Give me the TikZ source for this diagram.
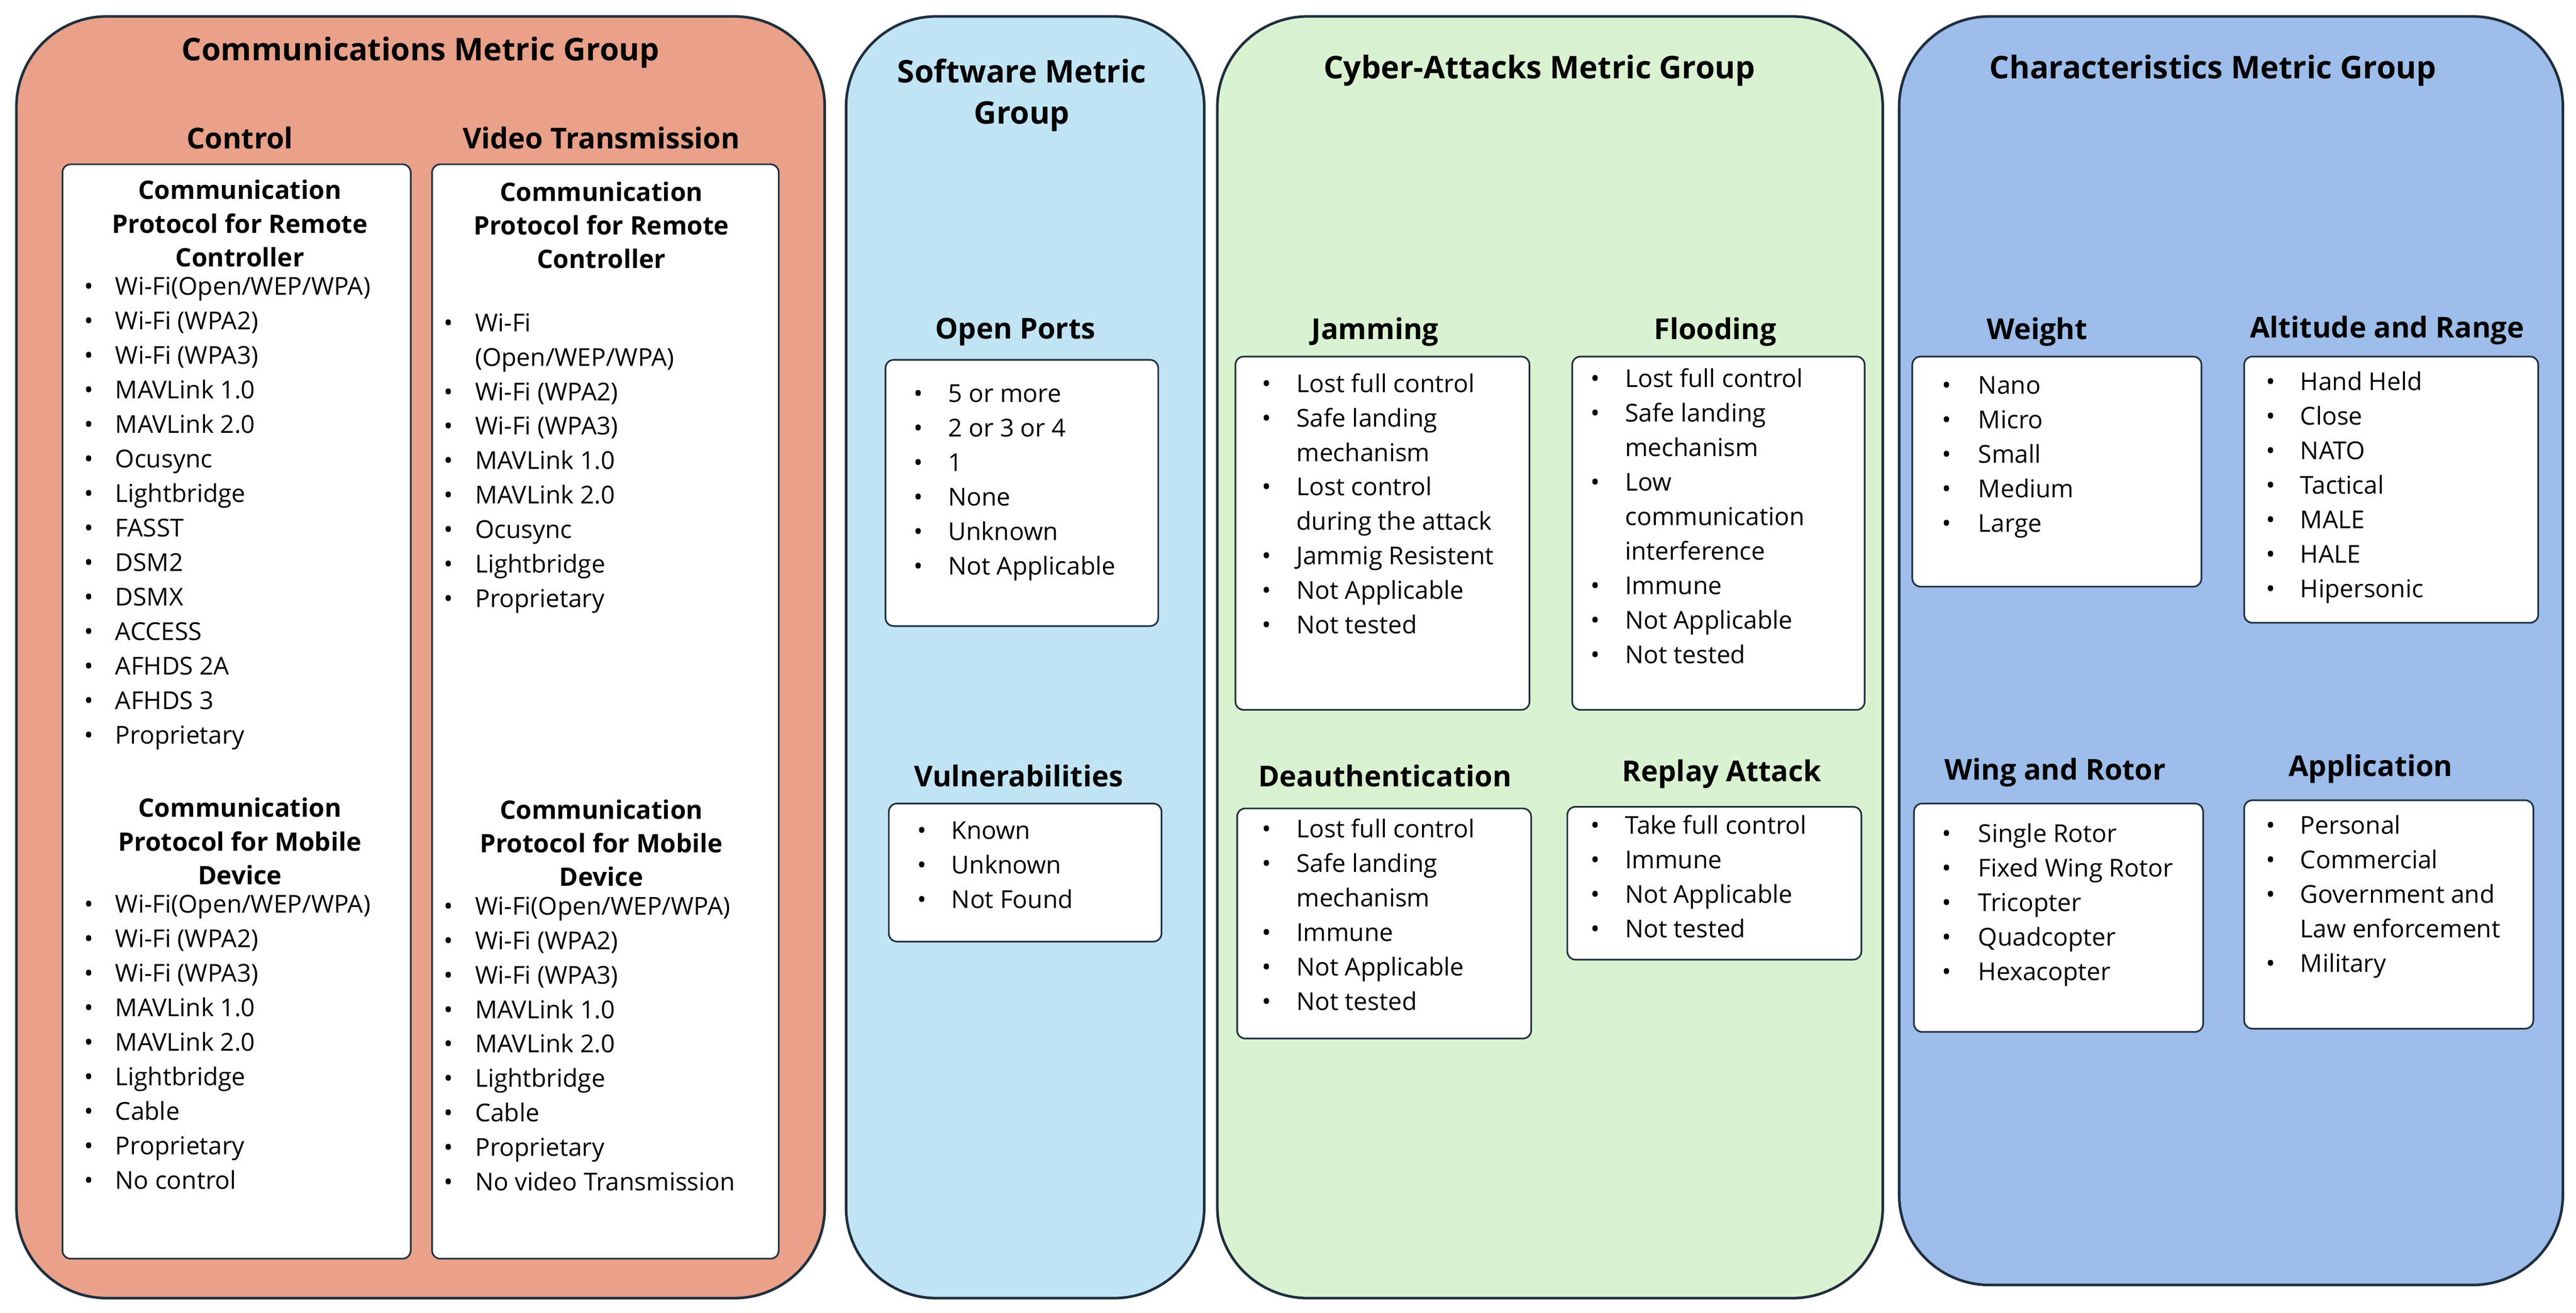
\documentclass[tikz,border=0pt]{standalone}
\usepackage{fontspec}
\setmainfont{Open Sans}
\newcounter{itm}
\definecolor{salmon}{HTML}{E9A189}
\definecolor{lblue}{HTML}{C1E4F5}
\definecolor{lgreen}{HTML}{D9F2D0}
\definecolor{mblue}{HTML}{9DBDEA}
\definecolor{edge}{HTML}{1F2F3F}
\tikzset{
 grp/.style={draw=edge,line width=1.6pt,rounded corners=55pt},
 box/.style={draw=edge,fill=white,line width=1pt,rounded corners=5pt},
 gtitle/.style={font=\fontsize{19}{23}\selectfont\bfseries,align=center},
 sub/.style={font=\fontsize{17.5}{21}\selectfont\bfseries,align=center},
 head/.style={font=\fontsize{15.5}{20.5}\selectfont\bfseries,align=center},
 itm/.style={font=\fontsize{15}{18}\selectfont,anchor=mid west,inner sep=0pt},
}
\newcommand{\bl}[4]{\stepcounter{itm}\node[itm] (b\arabic{itm}) at (#1,#3) {•};\node[itm] (t\arabic{itm}) at (#2,#3) {#4};}
\newcommand{\ct}[3]{\stepcounter{itm}\node[itm] (t\arabic{itm}) at (#1,#2) {#3};}
\begin{document}
\begin{tikzpicture}[x=1pt,y=-1pt]
\useasboundingbox[fill=white] (0,0) rectangle (1568,799);
% groups
\draw[grp,fill=salmon] (10,10) rectangle (502,790);
\draw[grp,fill=lblue] (515,10) rectangle (733,790);
\draw[grp,fill=lgreen] (741,10) rectangle (1146,790);
\draw[grp,fill=mblue] (1156,10) rectangle (1560,782);
\node[gtitle] (g1) at (256,32) {Communications Metric Group};
\node[gtitle] (g2) at (622,58) {Software Metric\\[2pt]Group};
\node[gtitle] (g3) at (937,43) {Cyber-Attacks Metric Group};
\node[gtitle] (g4) at (1347,43) {Characteristics Metric Group};
% communications
\node[sub] (s1) at (146,84) {Control};
\node[sub] (s2) at (366,84) {Video Transmission};
\draw[box] (38,100) rectangle (250,766);
\draw[box] (263,100) rectangle (474,766);
\node[head] (h1) at (146,136) {Communication\\Protocol for Remote\\Controller};
\node[head] (h2) at (146,512) {Communication\\Protocol for Mobile\\Device};
\node[head] (h3) at (366,137) {Communication\\Protocol for Remote\\Controller};
\node[head] (h4) at (366,513) {Communication\\Protocol for Mobile\\Device};
\foreach \t [count=\i from 0] in {Wi-Fi(Open/WEP/WPA),Wi-Fi (WPA2),Wi-Fi (WPA3),MAVLink 1.0,MAVLink 2.0,Ocusync,Lightbridge,FASST,DSM2,DSMX,ACCESS,AFHDS 2A,AFHDS 3,Proprietary}
 {\bl{51}{70}{177+21*\i}{\t}}
\foreach \t [count=\i from 0] in {Wi-Fi(Open/WEP/WPA),Wi-Fi (WPA2),Wi-Fi (WPA3),MAVLink 1.0,MAVLink 2.0,Lightbridge,Cable,Proprietary,No control}
 {\bl{51}{70}{553+21*\i}{\t}}
\bl{270}{289}{199}{Wi-Fi}
\ct{289}{220}{(Open/WEP/WPA)}
\foreach \t [count=\i from 0] in {Wi-Fi (WPA2),Wi-Fi (WPA3),MAVLink 1.0,MAVLink 2.0,Ocusync,Lightbridge,Proprietary}
 {\bl{270}{289}{241+21*\i}{\t}}
\foreach \t [count=\i from 0] in {Wi-Fi(Open/WEP/WPA),Wi-Fi (WPA2),Wi-Fi (WPA3),MAVLink 1.0,MAVLink 2.0,Lightbridge,Cable,Proprietary,No video Transmission}
 {\bl{270}{289}{554+21*\i}{\t}}
% software
\node[sub] (s3) at (618,202) {Open Ports};
\draw[box] (539,219) rectangle (705,381);
\foreach \t [count=\i from 0] in {5 or more,2 or 3 or 4,1,None,Unknown,Not Applicable}
 {\bl{556}{577}{242+21*\i}{\t}}
\node[sub] (s4) at (620,472) {Vulnerabilities};
\draw[box] (541,489) rectangle (707,573);
\foreach \t [count=\i from 0] in {Known,Unknown,Not Found}
 {\bl{558}{579}{508+21*\i}{\t}}
% cyber
\node[sub] (s5) at (837,202) {Jamming};
\draw[box] (752,217) rectangle (931,432);
\bl{768}{789}{236}{Lost full control}
\bl{768}{789}{257}{Safe landing}
\ct{789}{278}{mechanism}
\bl{768}{789}{299}{Lost control}
\ct{789}{320}{during the attack}
\bl{768}{789}{341}{Jammig Resistent}
\bl{768}{789}{362}{Not Applicable}
\bl{768}{789}{383}{Not tested}
\node[sub] (s6) at (1044,202) {Flooding};
\draw[box] (957,217) rectangle (1135,432);
\bl{968}{989}{233}{Lost full control}
\bl{968}{989}{254}{Safe landing}
\ct{989}{275}{mechanism}
\bl{968}{989}{296}{Low}
\ct{989}{317}{communication}
\ct{989}{338}{interference}
\bl{968}{989}{359}{Immune}
\bl{968}{989}{380}{Not Applicable}
\bl{968}{989}{401}{Not tested}
\node[sub] (s7) at (843,472) {Deauthentication};
\draw[box] (753,492) rectangle (932,632);
\bl{768}{789}{507}{Lost full control}
\bl{768}{789}{528}{Safe landing}
\ct{789}{549}{mechanism}
\bl{768}{789}{570}{Immune}
\bl{768}{789}{591}{Not Applicable}
\bl{768}{789}{612}{Not tested}
\node[sub] (s8) at (1048,471) {Replay Attack};
\draw[box] (954,491) rectangle (1133,584);
\foreach \t [count=\i from 0] in {Take full control,Immune,Not Applicable,Not tested}
 {\bl{968}{989}{505+21*\i}{\t}}
% characteristics
\node[sub] (s9) at (1240,202) {Weight};
\draw[box] (1164,217) rectangle (1340,357);
\foreach \t [count=\i from 0] in {Nano,Micro,Small,Medium,Large}
 {\bl{1182}{1204}{237+21*\i}{\t}}
\node[sub] (s10) at (1453,201) {Altitude and Range};
\draw[box] (1366,217) rectangle (1545,379);
\foreach \t [count=\i from 0] in {Hand Held,Close,NATO,Tactical,MALE,HALE,Hipersonic}
 {\bl{1379}{1400}{235+21*\i}{\t}}
\node[sub] (s11) at (1251,470) {Wing and Rotor};
\draw[box] (1165,489) rectangle (1341,628);
\foreach \t [count=\i from 0] in {Single Rotor,Fixed Wing Rotor,Tricopter,Quadcopter,Hexacopter}
 {\bl{1182}{1204}{510+21*\i}{\t}}
\node[sub] (s12) at (1443,468) {Application};
\draw[box] (1366,487) rectangle (1542,626);
\bl{1379}{1400}{505}{Personal}
\bl{1379}{1400}{526}{Commercial}
\bl{1379}{1400}{547}{Government and}
\ct{1400}{568}{Law enforcement}
\bl{1379}{1400}{589}{Military}
\end{tikzpicture}
\end{document}
